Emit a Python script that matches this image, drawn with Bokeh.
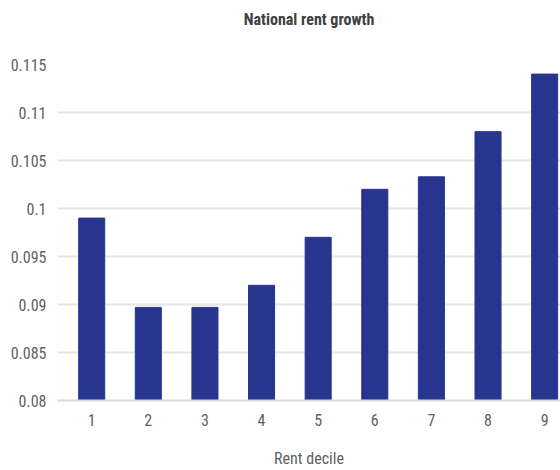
from bokeh.plotting import figure
from bokeh.models import Range1d, FixedTicker, LinearAxis
from bokeh.embed import file_html
from bokeh.resources import INLINE

# National rent growth by rent decile
deciles = [1, 2, 3, 4, 5, 6, 7, 8, 9]
growth = [0.0990, 0.0897, 0.0897, 0.0920, 0.0970, 0.1020, 0.1033, 0.1080, 0.1140]
y_ticks = [0.08, 0.085, 0.09, 0.095, 0.1, 0.105, 0.11, 0.115]
y_tick_labels = ["0.08", "0.085", "0.09", "0.095", "0.1", "0.105", "0.11", "0.115"]
chart_title = "National rent growth"
x_title = "Rent decile"

FONT = "Roboto Condensed"
TEXT = "#5f5f5f"
BAR = "#28358f"

p = figure(width=560, height=470, output_backend="svg", toolbar_location=None,
           x_range=Range1d(0.396, 9.28), y_range=Range1d(0.08, 0.115),
           min_border_left=57, min_border_right=0, min_border_top=64,
           min_border_bottom=68)

p.vbar(x=deciles, top=growth, bottom=0.08, width=0.46, color=BAR)

p.outline_line_color = None
p.xgrid.grid_line_color = None
p.ygrid.grid_line_color = "#e6e6e6"
p.ygrid.grid_line_width = 2

xax = p.below[0]
yax = p.left[0]

xax.ticker = FixedTicker(ticks=deciles)
yax.ticker = FixedTicker(ticks=y_ticks)
yax.major_label_overrides = {t: s for t, s in zip(y_ticks, y_tick_labels)}

for ax in (xax, yax):
    ax.major_tick_line_color = None
    ax.minor_tick_line_color = None
    ax.major_tick_out = 0
    ax.major_tick_in = 0
    ax.major_label_text_font = FONT
    ax.major_label_text_font_size = "16px"
    ax.major_label_text_color = TEXT

xax.axis_line_color = "#d9d9d9"
xax.axis_line_width = 2
xax.major_label_standoff = 13
xax.axis_label = x_title
xax.axis_label_standoff = 20
xax.axis_label_text_font = FONT
xax.axis_label_text_font_size = "16px"
xax.axis_label_text_font_style = "normal"
xax.axis_label_text_color = TEXT

yax.axis_line_color = None
yax.major_label_standoff = 11

# heading: an unticked axis above the frame carries the chart title
head = LinearAxis(ticker=FixedTicker(ticks=[]), axis_label=chart_title,
                  axis_line_color=None, major_tick_line_color=None,
                  minor_tick_line_color=None, major_tick_out=0, major_tick_in=0,
                  axis_label_standoff=36, axis_label_text_font=FONT,
                  axis_label_text_font_size="16px", axis_label_text_font_style="bold",
                  axis_label_text_color="#404040")
p.add_layout(head, "above")

open("out.html", "w").write(file_html(p, INLINE))
